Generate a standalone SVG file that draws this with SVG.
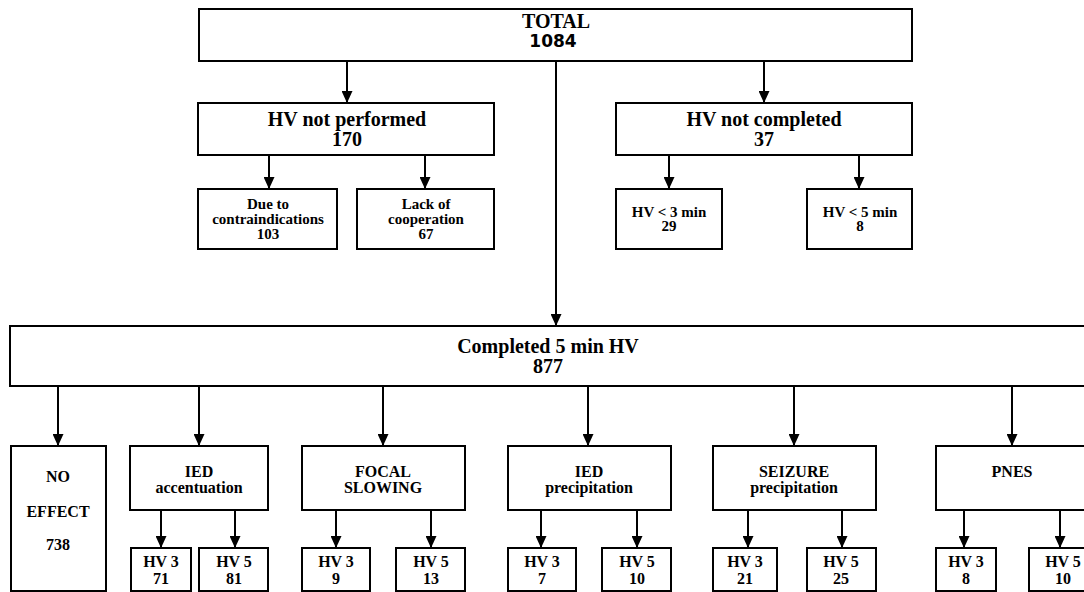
<svg xmlns="http://www.w3.org/2000/svg" width="1084" height="592" viewBox="0 0 1084 592">
<defs>
<marker id="ah" markerUnits="userSpaceOnUse" markerWidth="12" markerHeight="11" refX="12" refY="5.5" orient="auto">
<path d="M0,0 L12,5.5 L0,11 z" fill="#000"/>
</marker>
<style>
rect{fill:#fff;stroke:#000;stroke-width:2}
text{font-family:'Liberation Serif','Times New Roman',Times,'DejaVu Serif',serif;font-weight:700;fill:#000;text-anchor:middle}
.big{font-size:20px}
.sm{font-size:15px}
.md{font-size:16px}
.num{font-family:'DejaVu Sans',Verdana,sans-serif;font-size:17px}
#connectors path{fill:none;stroke:#000;stroke-width:2;marker-end:url(#ah)}
</style>
</defs>
<rect x="0" y="0" width="1084" height="592" style="stroke:none"/>
<g id="connectors">
<path d="M347,61 V103"/>
<path d="M764,61 V103"/>
<path d="M556,61 V326"/>
<path d="M269,155 V189"/>
<path d="M425,155 V189"/>
<path d="M669,155 V189"/>
<path d="M859,155 V189"/>
<path d="M58,386 V446"/>
<path d="M199,386 V446"/>
<path d="M383,386 V446"/>
<path d="M588,386 V446"/>
<path d="M794,386 V446"/>
<path d="M1012,386 V446"/>
<path d="M161,510 V548"/>
<path d="M235,510 V548"/>
<path d="M336,510 V548"/>
<path d="M431,510 V548"/>
<path d="M541,510 V548"/>
<path d="M637,510 V548"/>
<path d="M748,510 V548"/>
<path d="M842,510 V548"/>
<path d="M964,510 V548"/>
<path d="M1060,510 V548"/>
</g>
<g font-family="Liberation Serif, Times New Roman, serif" font-weight="bold">
<g id="total"><rect x="199" y="9" width="713" height="52"/><text class="big" x="556" y="28">TOTAL</text><text class="num" x="553" y="47">1084</text></g>
<g id="not-performed"><rect x="198" y="103" width="296" height="52"/><text class="big" x="347" y="126">HV not performed</text><text class="big" x="347" y="146">170</text></g>
<g id="not-completed"><rect x="616" y="103" width="296" height="52"/><text class="big" x="764" y="126">HV not completed</text><text class="big" x="764" y="146">37</text></g>
<g id="contra"><rect x="198" y="189" width="139" height="60"/><text class="sm" x="268" y="209">Due to</text><text class="sm" x="268" y="224">contraindications</text><text class="sm" x="268" y="239">103</text></g>
<g id="lack"><rect x="357" y="189" width="137" height="60"/><text class="sm" x="426" y="209">Lack of</text><text class="sm" x="426" y="224">cooperation</text><text class="sm" x="426" y="239">67</text></g>
<g id="lt3"><rect x="616" y="189" width="106" height="60"/><text class="sm" x="669" y="217">HV &lt; 3 min</text><text class="sm" x="669" y="231">29</text></g>
<g id="lt5"><rect x="807" y="189" width="105" height="60"/><text class="sm" x="860" y="217">HV &lt; 5 min</text><text class="sm" x="860" y="231">8</text></g>
<g id="completed"><rect x="10" y="326" width="1090" height="60"/><text class="big" x="548" y="353">Completed 5 min HV</text><text class="big" x="548" y="373">877</text></g>
<g id="no-effect"><rect x="11" y="446" width="95" height="145"/><text class="md" x="58" y="482">NO</text><text class="md" x="58" y="517">EFFECT</text><text class="md" x="58" y="550">738</text></g>
<g id="ied-acc"><rect x="130" y="446" width="138" height="64"/><text class="md" x="199" y="477">IED</text><text class="md" x="199" y="493">accentuation</text></g>
<g id="ied-acc-3"><rect x="131" y="548" width="60" height="43"/><text class="md" x="161" y="567">HV 3</text><text class="md" x="161" y="584">71</text></g>
<g id="ied-acc-5"><rect x="199" y="548" width="69" height="43"/><text class="md" x="234" y="567">HV 5</text><text class="md" x="234" y="584">81</text></g>
<g id="focal"><rect x="302" y="446" width="163" height="64"/><text class="md" x="383" y="477">FOCAL</text><text class="md" x="383" y="493">SLOWING</text></g>
<g id="focal-3"><rect x="302" y="548" width="68" height="43"/><text class="md" x="336" y="567">HV 3</text><text class="md" x="336" y="584">9</text></g>
<g id="focal-5"><rect x="396" y="548" width="69" height="43"/><text class="md" x="431" y="567">HV 5</text><text class="md" x="431" y="584">13</text></g>
<g id="ied-prec"><rect x="508" y="446" width="163" height="64"/><text class="md" x="589" y="477">IED</text><text class="md" x="589" y="493">precipitation</text></g>
<g id="ied-prec-3"><rect x="508" y="548" width="68" height="43"/><text class="md" x="542" y="567">HV 3</text><text class="md" x="542" y="584">7</text></g>
<g id="ied-prec-5"><rect x="602" y="548" width="69" height="43"/><text class="md" x="637" y="567">HV 5</text><text class="md" x="637" y="584">10</text></g>
<g id="seizure"><rect x="713" y="446" width="163" height="64"/><text class="md" x="794" y="477">SEIZURE</text><text class="md" x="794" y="493">precipitation</text></g>
<g id="seizure-3"><rect x="713" y="548" width="64" height="43"/><text class="md" x="745" y="567">HV 3</text><text class="md" x="745" y="584">21</text></g>
<g id="seizure-5"><rect x="807" y="548" width="69" height="43"/><text class="md" x="841" y="567">HV 5</text><text class="md" x="841" y="584">25</text></g>
<g id="pnes"><rect x="936" y="446" width="160" height="64"/><text class="md" x="1012" y="477">PNES</text></g>
<g id="pnes-3"><rect x="936" y="548" width="60" height="43"/><text class="md" x="966" y="567">HV 3</text><text class="md" x="966" y="584">8</text></g>
<g id="pnes-5"><rect x="1029" y="548" width="70" height="43"/><text class="md" x="1063" y="567">HV 5</text><text class="md" x="1063" y="584">10</text></g>
</g>
</svg>
